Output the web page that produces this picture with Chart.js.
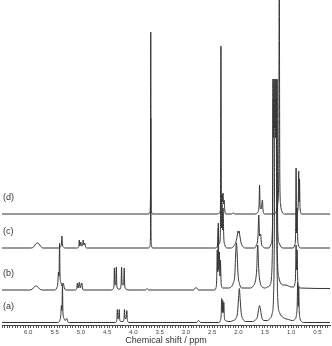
<!DOCTYPE html>
<html lang="en">
<head>
<meta charset="UTF-8" />
<title>1H NMR spectra</title>
<style>
  html, body { margin: 0; padding: 0; background: #fff; }
  #wrap { width: 332px; height: 346px; }
</style>
</head>
<body>
<div id="wrap"><canvas id="nmr" width="332" height="346"></canvas></div>

<script src="https://cdn.jsdelivr.net/npm/chart.js"></script>
<script>
// spectra: [ppm, intensity above own baseline]
const traceA = [
  [6.5, 0], [5.44, 0], [5.40, 2], [5.38, 8], [5.37, 17], [5.36, 12], [5.35, 37], [5.34, 10], [5.32, 4],
  [5.30, 2], [5.265, 4], [5.25, 1], [5.22, 0],
  [4.34, 0], [4.315, 3], [4.305, 13], [4.295, 4], [4.28, 4], [4.27, 13], [4.26, 3], [4.24, 1],
  [4.20, 1], [4.18, 3], [4.17, 13], [4.16, 4], [4.14, 4], [4.125, 12], [4.115, 3], [4.09, 0],
  [2.80, 0], [2.76, 2], [2.72, 0],
  [2.38, 0], [2.345, 2], [2.33, 8], [2.32, 24], [2.31, 10], [2.30, 22], [2.29, 10], [2.28, 20], [2.27, 6], [2.25, 2],
  [2.16, 1], [2.10, 2], [2.05, 4], [2.02, 10], [2.00, 24], [1.985, 34], [1.97, 24], [1.95, 10], [1.91, 3], [1.86, 1],
  [1.74, 1], [1.69, 2], [1.64, 6], [1.615, 14], [1.60, 17], [1.585, 14], [1.56, 6], [1.52, 2], [1.46, 2],
  [1.40, 4], [1.36, 9], [1.335, 25], [1.32, 80], [1.31, 200], [1.28, 200], [1.27, 80], [1.255, 25],
  [1.22, 10], [1.15, 5], [1.05, 3], [0.98, 2], [0.93, 3], [0.90, 7], [0.885, 16], [0.875, 40], [0.865, 16],
  [0.855, 36], [0.845, 12], [0.83, 4], [0.80, 1], [0.76, 0], [0.26, 0]
];
const traceB = [
  [6.5, 0], [5.98, 0], [5.92, 1], [5.88, 3.5], [5.85, 4], [5.82, 3], [5.78, 1], [5.74, 0],
  [5.50, 0], [5.46, 2], [5.44, 6], [5.425, 18], [5.415, 14], [5.405, 47], [5.395, 12], [5.38, 8],
  [5.365, 4], [5.335, 7], [5.315, 2], [5.28, 0],
  [5.12, 0], [5.08, 1], [5.065, 7], [5.055, 2], [5.025, 8], [5.015, 2], [4.98, 7], [4.97, 2], [4.94, 0],
  [4.42, 0], [4.385, 1], [4.37, 4], [4.362, 22], [4.352, 6], [4.342, 5], [4.335, 6], [4.325, 23], [4.315, 4],
  [4.29, 1], [4.255, 1], [4.235, 5], [4.225, 23], [4.215, 6], [4.20, 5], [4.185, 6], [4.175, 22], [4.165, 4],
  [4.14, 1], [4.10, 0],
  [3.77, 0], [3.74, 1.5], [3.71, 0],
  [2.86, 0], [2.81, 2.5], [2.76, 0],
  [2.46, 0], [2.43, 2], [2.415, 12], [2.405, 40], [2.395, 18], [2.385, 67], [2.375, 20], [2.365, 38],
  [2.355, 14], [2.345, 30], [2.33, 6], [2.30, 2],
  [2.20, 2], [2.14, 3], [2.10, 7], [2.07, 16], [2.055, 35], [2.04, 47], [2.025, 35], [2.01, 16], [1.98, 6],
  [1.94, 2], [1.88, 2], [1.78, 2], [1.72, 4], [1.68, 9], [1.655, 20], [1.635, 45], [1.615, 20], [1.59, 8],
  [1.55, 3], [1.49, 2], [1.45, 3],
  [1.40, 5], [1.375, 12], [1.36, 30], [1.35, 70], [1.34, 190], [1.28, 190], [1.27, 70], [1.255, 25],
  [1.23, 12], [1.20, 7], [1.15, 5], [1.10, 5], [1.05, 4], [1.00, 3], [0.96, 3], [0.93, 6], [0.915, 15],
  [0.905, 45], [0.895, 20], [0.885, 40], [0.875, 12], [0.86, 4], [0.83, 2], [0.26, 1.5]
];
const traceC = [
  [6.5, 0], [5.95, 0], [5.90, 1], [5.86, 4], [5.83, 5], [5.80, 4.5], [5.77, 2], [5.72, 0],
  [5.42, 0], [5.39, 1], [5.37, 4], [5.36, 12], [5.35, 4], [5.33, 1], [5.30, 0],
  [5.08, 0], [5.04, 1], [5.03, 8], [5.02, 2], [5.00, 6], [4.99, 2], [4.965, 3], [4.955, 8], [4.945, 3],
  [4.925, 5], [4.91, 1], [4.88, 0],
  [3.71, 0], [3.685, 2], [3.675, 15], [3.67, 130], [3.665, 15], [3.655, 2], [3.63, 0],
  [2.44, 0], [2.40, 2], [2.385, 20], [2.375, 4], [2.35, 8], [2.335, 48], [2.325, 20], [2.315, 45],
  [2.305, 18], [2.295, 40], [2.28, 10], [2.26, 3], [2.22, 0],
  [2.14, 0], [2.09, 2], [2.05, 6], [2.02, 14], [2.01, 17], [2.00, 15], [1.99, 17], [1.975, 12],
  [1.95, 5], [1.91, 1], [1.86, 0],
  [1.70, 0], [1.66, 3], [1.63, 12], [1.615, 33], [1.60, 12], [1.58, 14], [1.565, 5], [1.53, 1], [1.50, 0],
  [1.42, 0], [1.38, 4], [1.355, 20], [1.345, 169], [1.335, 110], [1.325, 169], [1.315, 120], [1.305, 169],
  [1.295, 110], [1.285, 169], [1.275, 120], [1.265, 169], [1.255, 20], [1.23, 5], [1.19, 1], [1.15, 0],
  [0.96, 0], [0.93, 3], [0.915, 12], [0.905, 80], [0.895, 15], [0.885, 40], [0.875, 10], [0.86, 3],
  [0.82, 0], [0.26, 0]
];
const traceD = [
  [6.5, 0], [3.71, 0], [3.685, 2], [3.675, 20], [3.67, 182], [3.665, 20], [3.655, 2], [3.63, 0],
  [2.40, 0], [2.36, 1], [2.345, 4], [2.335, 168], [2.325, 10], [2.315, 20], [2.305, 12], [2.295, 21],
  [2.285, 10], [2.275, 14], [2.26, 3], [2.24, 0],
  [2.13, 0], [2.10, 1], [2.07, 0],
  [1.68, 0], [1.63, 2], [1.61, 8], [1.60, 29], [1.59, 8], [1.57, 5], [1.545, 14], [1.535, 4], [1.50, 0],
  [1.32, 0], [1.28, 3], [1.25, 12], [1.235, 40], [1.225, 240], [1.215, 40], [1.20, 10], [1.17, 2], [1.12, 0],
  [0.92, 0], [0.88, 2], [0.865, 10], [0.855, 43], [0.848, 12], [0.84, 35], [0.83, 6], [0.80, 0], [0.26, 0]
];

const traces = [traceA, traceB, traceC, traceD];
const traceLabels = ['(a)', '(b)', '(c)', '(d)'];
const traceOffsets = [2.5, 35, 77, 111];
const labelRise = 16;
const labelPpm = 6.48;
const tickLabelMax = 6.0;

const datasets = traces.map((t, i) => ({
  label: traceLabels[i],
  data: t.map(p => ({x: p[0], y: p[1] + traceOffsets[i]})),
  borderColor: '#333',
  borderWidth: 1,
  pointRadius: 0,
  fill: false,
  cubicInterpolationMode: 'monotone'
}));

const traceNames = {
  id: 'traceNames',
  afterDatasetsDraw(chart) {
    const {ctx, scales: {x, y}} = chart;
    ctx.save();
    ctx.fillStyle = '#333';
    ctx.font = '9px "Liberation Sans", Arial, sans-serif';
    ctx.textAlign = 'left';
    ctx.textBaseline = 'middle';
    traceLabels.forEach((lbl, i) => {
      ctx.fillText(lbl, x.getPixelForValue(labelPpm), y.getPixelForValue(traceOffsets[i] + labelRise));
    });
    ctx.restore();
  }
};

new Chart(document.getElementById('nmr').getContext('2d'), {
  type: 'line',
  data: {datasets},
  options: {
    responsive: false,
    animation: false,
    events: [],
    layout: {padding: {left: 2, right: 2, top: 0, bottom: 0}},
    plugins: {legend: {display: false}, tooltip: {enabled: false}},
    scales: {
      x: {
        type: 'linear',
        reverse: true,
        min: 0.26,
        max: 6.5,
        afterFit(scale) { scale.height = 21; scale.paddingLeft = 0; scale.paddingRight = 0; },
        border: {display: true, color: '#444', width: 1},
        grid: {drawOnChartArea: false, drawTicks: true, tickLength: 3, color: '#555'},
        ticks: {
          stepSize: 0.05,
          autoSkip: false,
          maxTicksLimit: 500,
          includeBounds: false,
          maxRotation: 0,
          padding: 1,
          color: '#444',
          font: {size: 6, family: '"Liberation Sans", Arial, sans-serif'},
          callback: v => (Math.round(v * 100) % 50 === 0 && v <= tickLabelMax + 0.01 ? v.toFixed(1) : '')
        },
        title: {
          display: true,
          text: 'Chemical shift / ppm',
          color: '#333',
          padding: {top: 0, bottom: 0},
          font: {size: 9, family: '"Liberation Sans", Arial, sans-serif'}
        }
      },
      y: {display: false, min: 0, max: 325}
    }
  },
  plugins: [traceNames]
});
</script>
</body>
</html>
